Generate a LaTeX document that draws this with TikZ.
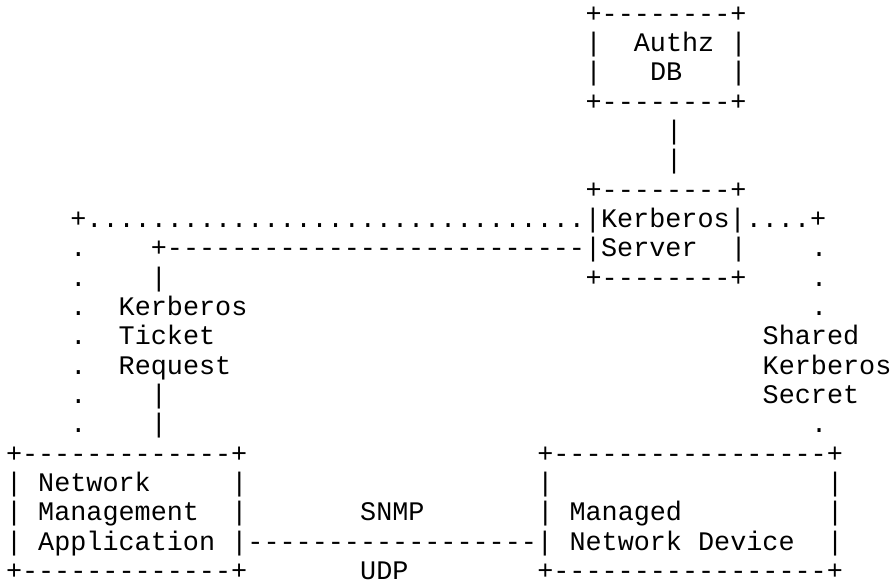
\documentclass[tikz,border=0pt]{standalone}
\usepackage{fontspec}
\setmonofont{Liberation Mono}
\begin{document}
\begin{tikzpicture}[x=1pt,y=1pt,
  txt/.style={anchor=base west, inner sep=0pt, outer sep=0pt,
    font=\ttfamily\fontsize{26.8}{29.4}\selectfont, text=black}]
\useasboundingbox (0,0) rectangle (893,-582);
\newcommand\cellat[4]{\node[txt] (#1) at ({6+16.1*#3},{-(22+29.35*(#2-1))}) {#4};}
% Authz DB
\cellat{r1}{1}{36}{+--------+}
\cellat{r2a}{2}{36}{|}
\cellat{authz}{2}{39}{Authz}
\cellat{r2b}{2}{45}{|}
\cellat{r3a}{3}{36}{|}
\cellat{db}{3}{40}{DB}
\cellat{r3b}{3}{45}{|}
\cellat{r4}{4}{36}{+--------+}
\cellat{r5}{5}{41}{|}
\cellat{r6}{6}{41}{|}
% Kerberos server
\cellat{r7}{7}{36}{+--------+}
\cellat{r8}{8}{4}{+...............................|Kerberos|....+}
\cellat{r9a}{9}{4}{.}
\cellat{r9b}{9}{9}{+--------------------------|Server}
\cellat{r9c}{9}{45}{|}
\cellat{r9d}{9}{50}{.}
\cellat{r10a}{10}{4}{.}
\cellat{r10b}{10}{9}{|}
\cellat{r10c}{10}{36}{+--------+}
\cellat{r10d}{10}{50}{.}
\cellat{r11a}{11}{4}{.}
\cellat{ktr1}{11}{7}{Kerberos}
\cellat{r11d}{11}{50}{.}
\cellat{r12a}{12}{4}{.}
\cellat{ktr2}{12}{7}{Ticket}
\cellat{skr1}{12}{47}{Shared}
\cellat{r13a}{13}{4}{.}
\cellat{ktr3}{13}{7}{Request}
\cellat{skr2}{13}{47}{Kerberos}
\cellat{r14a}{14}{4}{.}
\cellat{r14b}{14}{9}{|}
\cellat{skr3}{14}{47}{Secret}
\cellat{r15a}{15}{4}{.}
\cellat{r15b}{15}{9}{|}
\cellat{r15d}{15}{50}{.}
% bottom boxes
\cellat{r16a}{16}{0}{+-------------+}
\cellat{r16b}{16}{33}{+-----------------+}
\cellat{r17a}{17}{0}{|}
\cellat{nma1}{17}{2}{Network}
\cellat{r17b}{17}{14}{|}
\cellat{r17c}{17}{33}{|}
\cellat{r17d}{17}{51}{|}
\cellat{r18a}{18}{0}{|}
\cellat{nma2}{18}{2}{Management}
\cellat{r18b}{18}{14}{|}
\cellat{snmp}{18}{22}{SNMP}
\cellat{r18c}{18}{33}{|}
\cellat{mnd1}{18}{35}{Managed}
\cellat{r18d}{18}{51}{|}
\cellat{r19a}{19}{0}{|}
\cellat{nma3}{19}{2}{Application}
\cellat{r19b}{19}{14}{|------------------|}
\cellat{mnd2}{19}{35}{Network Device}
\cellat{r19d}{19}{51}{|}
\cellat{r20a}{20}{0}{+-------------+}
\cellat{udp}{20}{22}{UDP}
\cellat{r20b}{20}{33}{+-----------------+}
\end{tikzpicture}
\end{document}
